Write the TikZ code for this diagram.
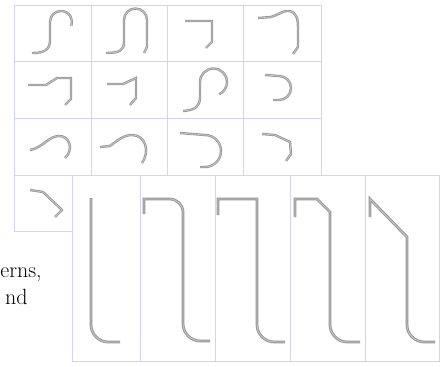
\documentclass[tikz,border=0pt]{standalone}
\usepackage{tikz}
\usetikzlibrary{calc,positioning}
\definecolor{gridblue}{RGB}{210,210,250}
\definecolor{strokegray}{RGB}{150,150,150}
\definecolor{strokelight}{RGB}{196,196,196}

\begin{document}
\begin{tikzpicture}[x=0.75pt,y=-0.75pt,
    gridline/.style={draw=gridblue, line width=0.7pt},
    stroke/.style={draw=strokegray, line width=0.6pt, double=strokelight, double distance=0.6pt},
    bigstroke/.style={draw=strokegray, line width=0.7pt, double=strokelight, double distance=0.7pt},
    label/.style={inner sep=0pt, anchor=base east, font=\fontsize{16.5}{20}\selectfont}]
      \useasboundingbox (0,0) rectangle (446,367);
      % Small grid of stroke patterns
      \draw[gridline] (14,5) -- (321,5);
      \draw[gridline] (14,61) -- (321,61);
      \draw[gridline] (14,118) -- (321,118);
      \draw[gridline] (14,175) -- (321,175);
      \draw[gridline] (14,231) -- (72,231);
      \draw[gridline] (14,5) -- (14,231);
      \draw[gridline] (91,5) -- (91,175);
      \draw[gridline] (167,5) -- (167,175);
      \draw[gridline] (243,5) -- (243,175);
      \draw[gridline] (321,5) -- (321,175);
      % Row 1
      \draw[stroke] (32,53) .. controls (44,53) and (50,50) .. (50,40) -- (50,22) arc (180:380:11);
      \draw[stroke] (106,53) .. controls (120,53) and (124,50) .. (124,42) -- (124,20) arc (180:360:11.5) -- (147,47) -- (144,53);
      \draw[stroke] (185,21) -- (212,21) -- (212,42) -- (206,48);
      \draw[stroke] (258,18) -- (271,17) .. controls (280,14) and (284,10) .. (289,11) .. controls (297,12) and (298,20) .. (298,28) -- (298,47) -- (293,54);
      % Row 2
      \draw[stroke] (28,85) -- (46,85) -- (57,78) -- (71,78) -- (71,99) -- (65,105);
      \draw[stroke] (107,84) -- (123,84) -- (136,78) -- (136,98) -- (130,105);
      \draw[stroke] (183,111) .. controls (196,110) and (200,106) .. (200,97) -- (200,82) arc (180:425:13.5);
      \draw[stroke] (265,75) -- (279,76) arc (-90:90:12) -- (273,100);
      % Row 3
      \draw[stroke] (30,150) .. controls (42,148) and (48,137) .. (58,136) .. controls (70,135) and (74,150) .. (65,158);
      \draw[stroke] (100,147) -- (110,146) .. controls (118,140) and (124,135) .. (132,135) .. controls (146,135) and (150,152) .. (142,163);
      \draw[stroke] (180,133) -- (205,135) arc (-90:90:16) -- (200,167);
      \draw[stroke] (262,134) -- (275,135) -- (290,142) -- (291,154) -- (286,161);
      % Row 4
      \draw[stroke] (30,190) -- (43,192) -- (62,210) -- (55,217);
      % Large panel in front
      \filldraw[gridline, fill=white] (72,175) rectangle (439,361);
      \draw[gridline] (140,175) -- (140,361);
      \draw[gridline] (215,175) -- (215,361);
      \draw[gridline] (290,175) -- (290,361);
      \draw[gridline] (365,175) -- (365,361);
      % Long strokes
      \draw[bigstroke, rounded corners=13pt] (91,198) -- (91,342) -- (120,342);
      \draw[bigstroke] (144,214) -- (144,199) [rounded corners=10pt] -- (183,199) [rounded corners=13pt] -- (183,341) -- (210,341);
      \draw[bigstroke] (218,215) -- (218,199) -- (257,199) [rounded corners=13pt] -- (257,342) -- (285,342);
      \draw[bigstroke] (295,217) -- (295,199) -- (317,199) -- (330,212) [rounded corners=13pt] -- (330,342) -- (360,342);
      \draw[bigstroke] (370,217) -- (370,199) -- (407,237) [rounded corners=13pt] -- (407,342) -- (435,342);
      % Cut-off text on the left
      \node[label] (erns) at (42,277) {erns,};
      \node[label] (nd) at (28,304) {nd};
\end{tikzpicture}
\end{document}
